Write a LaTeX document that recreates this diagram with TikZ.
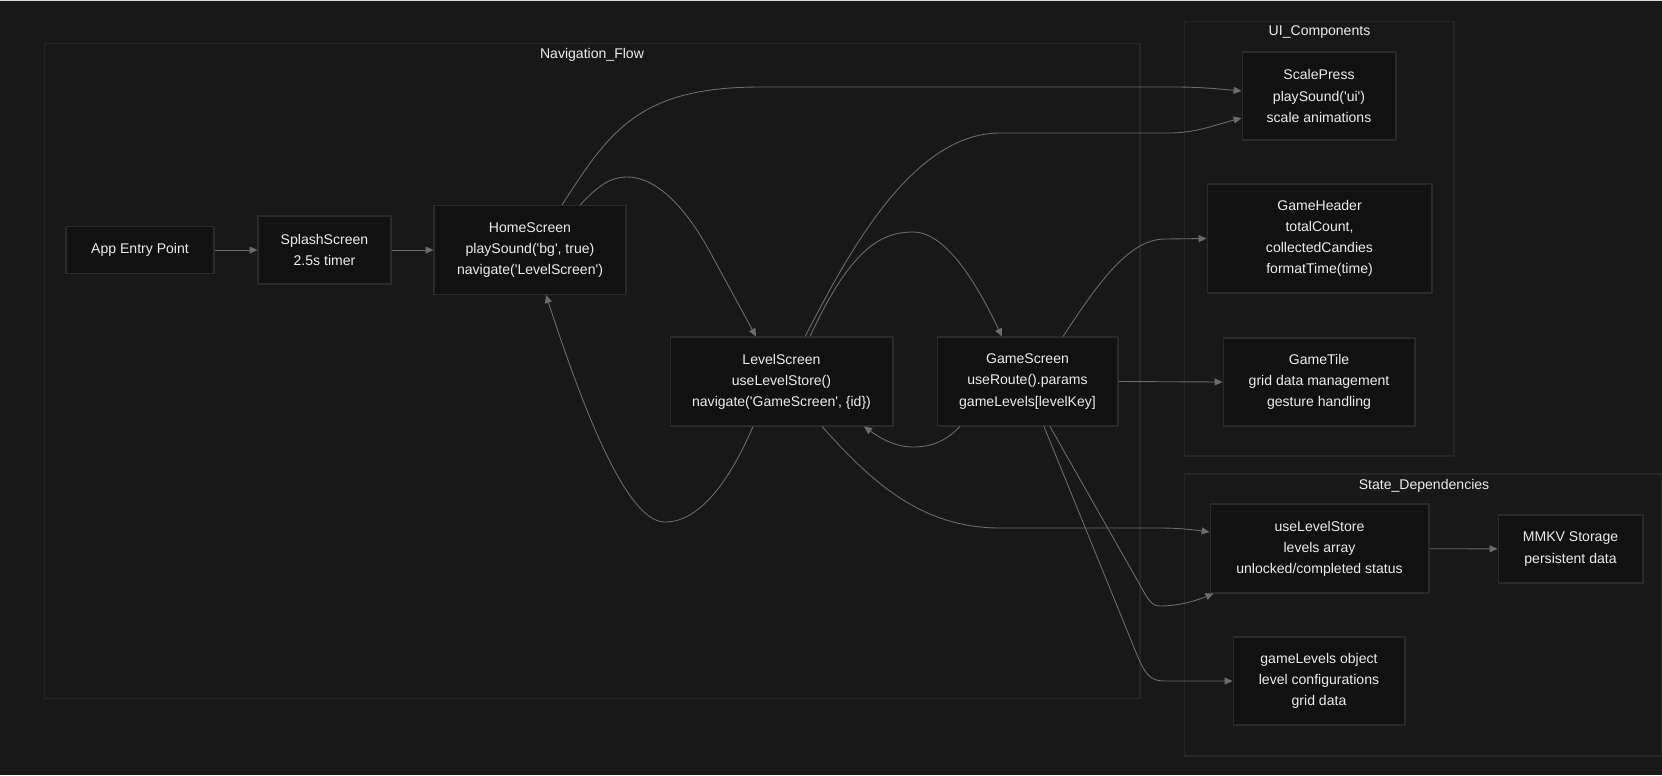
\documentclass[tikz,border=0pt]{standalone}
\usepackage{fontspec}
\setmainfont{Liberation Sans}[Ligatures=TeXOff]
\usetikzlibrary{arrows.meta,calc}

\definecolor{canvas}{RGB}{24,24,24}
\definecolor{nodefill}{RGB}{17,17,17}
\definecolor{nodeline}{RGB}{42,42,42}
\definecolor{frameline}{RGB}{38,38,38}
\definecolor{wire}{RGB}{108,108,108}
\definecolor{ink}{RGB}{236,236,236}

\begin{document}
\begin{tikzpicture}[
    x=0.02cm, y=-0.02cm,
    box/.style={draw=nodeline, fill=nodefill, line width=0.6pt, text=ink, align=center, inner sep=0pt, font=\fontsize{8}{12}\selectfont},
    frame/.style={draw=frameline, line width=0.6pt},
    title/.style={text=ink, inner sep=0pt, font=\fontsize{8}{12}\selectfont},
    arr/.style={-{Triangle[length=4.5pt,width=4pt]}, draw=wire, line width=0.5pt}
]
    \useasboundingbox (0,0) rectangle (1662,775);
    \fill[canvas] (0,0) rectangle (1662,775);
    \fill[black!14] (0,0) rectangle (1662,1.2);

    % --- Clusters ---
    \draw[frame] (44.5,43.5) rectangle (1140,698.5);
    \node[title] (navtitle) at (592,55) {Navigation\_Flow};
    \draw[frame] (1184.5,21.5) rectangle (1454,456);
    \node[title] (uititle) at (1319.5,32) {UI\_Components};
    \draw[frame] (1184.5,474) rectangle (1661,756);
    \node[title] (statetitle) at (1424,486) {State\_Dependencies};

    % --- Navigation flow ---
    \node[box, minimum width=2.96cm, minimum height=0.94cm] (entry) at (140,250) {App Entry Point};
    \node[box, minimum width=2.66cm, minimum height=1.36cm] (splash) at (324.5,250) {SplashScreen\\2.5s timer};
    \node[box, minimum width=3.84cm, minimum height=1.78cm] (home) at (530,250) {HomeScreen\\playSound('bg', true)\\navigate('LevelScreen')};
    \node[box, minimum width=4.46cm, minimum height=1.78cm] (level) at (781.5,381.5) {LevelScreen\\useLevelStore()\\navigate('GameScreen', \{id\})};
    \node[box, minimum width=3.62cm, minimum height=1.78cm] (game) at (1027.5,381.5) {GameScreen\\useRoute().params\\gameLevels[levelKey]};

    % --- UI components ---
    \node[box, minimum width=3.08cm, minimum height=1.76cm] (scale) at (1319,96) {ScalePress\\playSound('ui')\\scale animations};
    \node[box, minimum width=4.50cm, minimum height=2.18cm] (header) at (1319.5,238.5) {GameHeader\\totalCount,\\collectedCandies\\formatTime(time)};
    \node[box, minimum width=3.84cm, minimum height=1.76cm] (tile) at (1319,382) {GameTile\\grid data management\\gesture handling};

    % --- State dependencies ---
    \node[box, minimum width=4.38cm, minimum height=1.78cm] (store) at (1319.5,548.5) {useLevelStore\\levels array\\unlocked/completed status};
    \node[box, minimum width=2.90cm, minimum height=1.36cm] (mmkv) at (1570.5,549) {MMKV Storage\\persistent data};
    \node[box, minimum width=3.44cm, minimum height=1.76cm] (levels) at (1319,681) {gameLevels object\\level configurations\\grid data};

    % --- Screen to screen ---
    \draw[arr] (entry) -- (splash);
    \draw[arr] (splash) -- (home);
    \draw[arr] ($(home.north)+(50,0)$) .. controls (598,186) and (610,177) .. (627,177)
        .. controls (660,177) and (690,215) .. (710,252) -- ($(level.north)+(-25.5,0)$);
    \draw[arr] ($(level.north)+(28.5,0)$) .. controls (850,250) and (880,232) .. (913,232)
        .. controls (945,232) and (975,280) .. ($(game.north)+(-25.5,0)$);
    \draw[arr] ($(game.south)+(-67.5,0)$) .. controls (945,442) and (930,447) .. (913,447)
        .. controls (895,447) and (880,438) .. ($(level.south)+(82.5,0)$);
    \draw[arr] ($(level.south)+(-28.5,0)$) .. controls (730,480) and (700,522) .. (665,522)
        .. controls (630,522) and (590,430) .. ($(home.south)+(16,0)$);

    % --- Into UI components ---
    \draw[arr] ($(home.north)+(32,0)$) .. controls (610,130) and (640,87) .. (760,87) -- (1175,87)
        .. controls (1200,87) and (1220,89) .. ($(scale.west)+(0,-5)$);
    \draw[arr] ($(level.north)+(23.5,0)$) .. controls (845,260) and (910,133) .. (1000,133) -- (1170,133)
        .. controls (1195,133) and (1215,125) .. ($(scale.west)+(0,22)$);
    \draw[arr] ($(game.north)+(35.5,0)$) .. controls (1100,280) and (1130,239) .. (1165,239) -- (header.west);
    \draw[arr] (game.east) -- (tile.west);

    % --- Into state ---
    \draw[arr] ($(level.south)+(40.5,0)$) .. controls (870,480) and (920,528) .. (1000,528) -- (1160,528)
        .. controls (1180,528) and (1195,530) .. ($(store.west)+(0,-16.5)$);
    \draw[arr] ($(game.south)+(22.5,0)$) -- (1140,585) .. controls (1148,600) and (1152,606) .. (1160,606)
        .. controls (1180,606) and (1198,600) .. ($(store.south west)+(4,0)$);
    \draw[arr] ($(game.south)+(16.5,0)$) -- (1135,650) .. controls (1145,675) and (1150,681) .. (1165,681) -- (levels.west);
    \draw[arr] (store) -- (mmkv);
\end{tikzpicture}
\end{document}
